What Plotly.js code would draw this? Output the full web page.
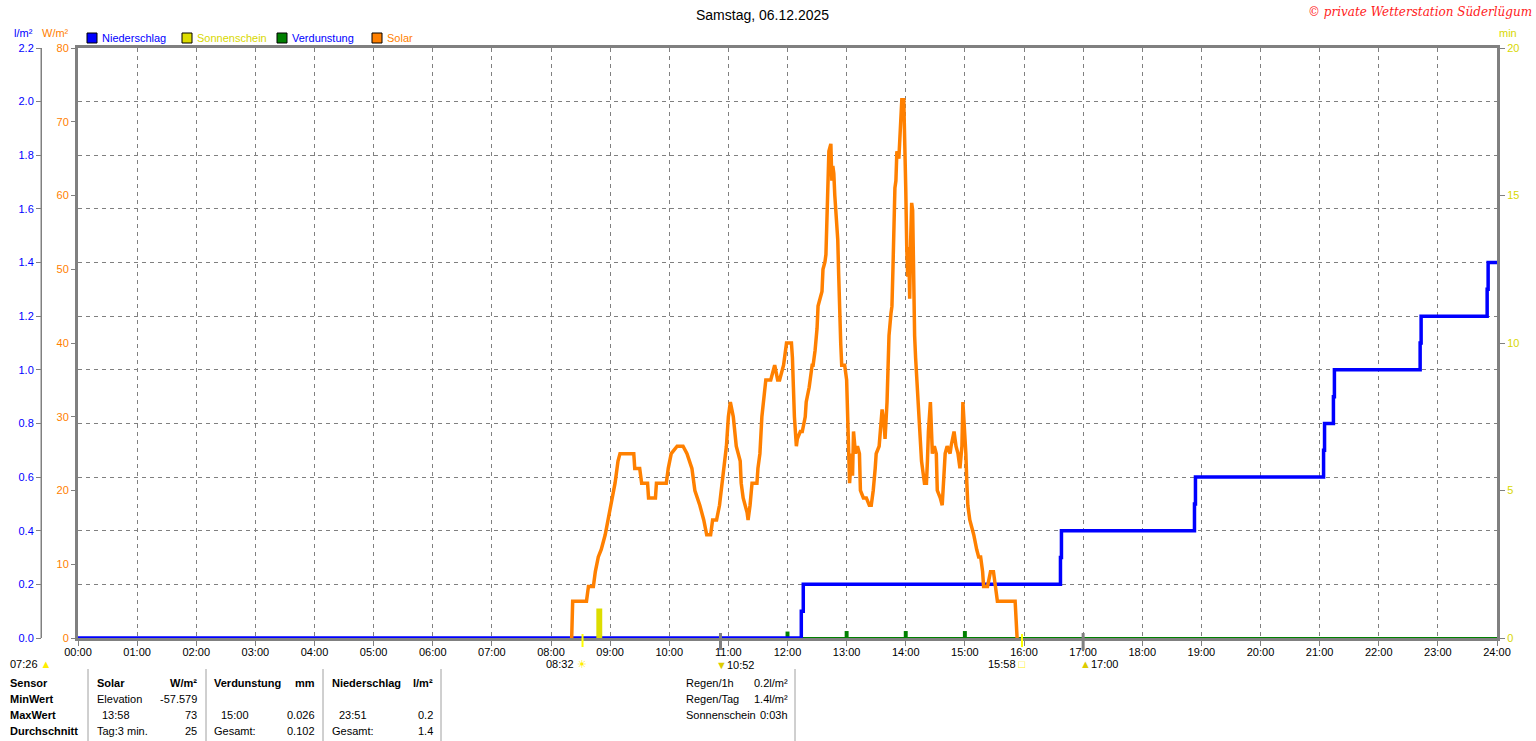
<!DOCTYPE html>
<html><head><meta charset="utf-8">
<script src="https://cdn.plot.ly/plotly-3.0.1.min.js"></script>
<style>html,body{margin:0;padding:0;background:#fff;overflow:hidden}#chart{width:1536px;height:741px}</style>
</head><body><div id="chart"></div>
<script>
// ---- data (minutes since midnight) ----
const solarTime = [
 501,502,516,518,523,525,528,531,535,538,
 542,545,548,550,564,565,570,572,578,579,
 586,587,597,599,602,608,614,618,623,626,
 631,635,638,642,644,648,651,655,658,660,
 662,665,668,672,673,675,679,680,682,684,
 689,690,692,694,698,703,707,710,712,716,
 719,724,725,726,727,729,730,733,735,738,
 739,742,745,746,748,750,751,753,755,756,
 758,759,760,761,762,764,765,766,767,768,
 769,771,772,773,774,775,778,780,781,782,
 783,785,786,787,789,791,793,794,797,800,
 803,805,807,809,810,813,814,816,818,819,
 821,822,823,825,826,827,828,829,830,831,
 833,834,835,836,838,839,840,841,842,843,
 844,845,846,847,848,849,850,852,854,856,
 859,861,862,863,865,866,867,869,871,872,
 875,877,879,880,882,885,886,889,891,893,
 895,897,898,899,901,902,903,905,907,909,
 912,914,916,918,919,923,926,929,931,933,
 951,952,953];
const solarValue = [
 0,5,5,7,7,9,11,12,14,16,
 19,21,24,25,25,23,23,21,21,19,
 19,21,21,23,25,26,26,25,23,20,
 18,16,14,14,16,16,18,23,26,30,
 32,30,26,24,21,19,17,16,18,21,
 21,23,25,30,35,35,37,35,35,37,
 40,40,38,34,30,26,27,28,28,30,
 32,34,37,37,39,42,45,46,47,50,
 51,52,56,62,66,67,62,64,63,60,
 58,54,49,43,40,37,37,35,30,25,
 21,25,22,28,25,26,25,20,19,19,
 18,18,20,23,25,26,28,31,29,27,
 32,39,41,44,45,50,58,61,62,66,
 65,68,70,73,73,68,61,53,49,53,
 46,54,59,58,48,41,38,33,29,24,
 21,21,24,28,32,29,25,26,25,20,
 19,18,22,25,26,25,26,28,26,25,
 23,26,32,30,25,21,18,16,15,14,
 12,11,11,9,7,7,9,9,7,5,
 5,3,0];
const rainTime = [0,734,736,997,998,1133,1134,1264,1265,1274,1275,1362,1363,1430,1431,1440];
const rainSum  = [0,0.1,0.2,0.3,0.4,0.5,0.6,0.7,0.8,0.9,1.0,1.1,1.2,1.3,1.4,1.4];
const evapTime  = [720,780,840,900];
const evapValue = [0.024,0.026,0.026,0.026];
const sunTime    = [529];
const sunMinutes = [1.0];
const hourTicks  = [0,60,120,180,240,300,360,420,480,540,600,660,720,780,840,900,960,1020,1080,1140,1200,1260,1320,1380,1440];
const hourLabels = ["00:00","01:00","02:00","03:00","04:00","05:00","06:00","07:00","08:00","09:00","10:00","11:00","12:00","13:00","14:00","15:00","16:00","17:00","18:00","19:00","20:00","21:00","22:00","23:00","24:00"];
const rainTicks  = [0,0.2,0.4,0.6,0.8,1.0,1.2,1.4,1.6,1.8,2.0,2.2];
const solarTicks = [0,10,20,30,40,50,60,70,80];
const sunTicks   = [0,5,10,15,20];
const eventTime  = [512,652,958,1020];   // Sonnenaufgang, Mittag, Sonnenuntergang, 17:00
const eventColor = ['#ffff00','#808080','#ffff00','#808080'];

// ---- layout helpers (pixel -> paper) ----
const W=1536,H=741,L=78,R=1497,T=48,B=638;
const px = x => x/W, py = y => 1 - y/H;
const FONT = 'Liberation Sans, Arial, sans-serif';
const GRID = '#808080';

const traces = [
 {type:'bar', x:evapTime, y:evapValue, yaxis:'y', width:4, marker:{color:'#008000', line:{width:0}}, hoverinfo:'skip'},
 {type:'scatter', mode:'lines', x:rainTime, y:rainSum, yaxis:'y', line:{color:'#0000ff', width:3.5, shape:'hv'}, hoverinfo:'skip'},
 {type:'scatter', mode:'lines', x:solarTime, y:solarValue, yaxis:'y2', line:{color:'#ff8000', width:3.5}, hoverinfo:'skip'},
 {type:'bar', x:sunTime, y:sunMinutes, yaxis:'y3', width:6, marker:{color:'#dddd00', line:{width:0}}, hoverinfo:'skip'}
];

const ann = [];
const A = (x,y,text,opt={}) => ann.push(Object.assign({xref:'paper',yref:'paper',x:px(x),y:py(y),text:text,showarrow:false,xanchor:'left',yanchor:'middle',font:{family:FONT,size:11,color:'#000'}},opt));
A(762,15,'Samstag, 06.12.2025',{xanchor:'center',font:{family:FONT,size:14,color:'#000'}});
A(1534,12,'© private Wetterstation Süderlügum',{xanchor:'right',font:{family:'DejaVu Serif, serif',size:12,color:'#ff1a1a',style:'italic'}});
A(12,33,'l/m²',{font:{family:FONT,size:11,color:'#0000ff'}});
A(40,33,'W/m²',{font:{family:FONT,size:11,color:'#ff8000'}});
A(1497,33,'min',{font:{family:FONT,size:11,color:'#d8d800'}});
// legend
const legItems = [[87,'Niederschlag','#0000ff','#0000ff'],[182,'Sonnenschein','#dddd00','#d8d800'],[277,'Verdunstung','#008000','#0000ff'],[372,'Solar','#ff8000','#ff8000']];
const shapes = [];
legItems.forEach(([x,t,c,tc])=>{
  shapes.push({type:'rect',xref:'paper',yref:'paper',x0:px(x),x1:px(x+10),y0:py(43),y1:py(33),fillcolor:c,line:{color:'#000',width:1}});
  A(x+13,38,t,{font:{family:FONT,size:11,color:tc}});
});
// blue axis line
shapes.push({type:'line',xref:'paper',yref:'paper',x0:px(41),x1:px(41),y0:py(B),y1:py(T),line:{color:GRID,width:1}});
// event markers below axis
eventTime.forEach((t,i)=>{
  shapes.push({type:'line',xref:'x',yref:'paper',x0:t,x1:t,y0:py(i%2?650:647),y1:py(i%2?633:634),line:{color:eventColor[i],width:i%2?3:2}});
});
A(8,664,'07:26 <span style="color:#ffee00">▲</span>');
A(589,664,'08:32 <span style="color:#ffee00">☀</span>',{xanchor:'right'});
A(714,665,'<span style="color:#ddcc00">▼</span>10:52');
A(1028,664,'15:58 <span style="color:#ffee00">□</span>',{xanchor:'right'});
A(1078,664,'<span style="color:#ddcc00">▲</span>17:00');
// table
A(8,683,'<b>Sensor</b>'); A(8,699,'<b>MinWert</b>'); A(8,715,'<b>MaxWert</b>'); A(8,731,'<b>Durchschnitt</b>');
A(95,683,'<b>Solar</b>'); A(199,683,'<b>W/m²</b>',{xanchor:'right'});
A(95,699,'Elevation'); A(199,699,'-57.579',{xanchor:'right'});
A(100,715,'13:58'); A(199,715,'73',{xanchor:'right'});
A(95,731,'Tag:3 min.'); A(199,731,'25',{xanchor:'right'});
A(212,683,'<b>Verdunstung</b>'); A(317,683,'<b>mm</b>',{xanchor:'right'});
A(219,715,'15:00'); A(317,715,'0.026',{xanchor:'right'});
A(212,731,'Gesamt:'); A(317,731,'0.102',{xanchor:'right'});
A(330,683,'<b>Niederschlag</b>'); A(435,683,'<b>l/m²</b>',{xanchor:'right'});
A(337,715,'23:51'); A(435,715,'0.2',{xanchor:'right'});
A(330,731,'Gesamt:'); A(435,731,'1.4',{xanchor:'right'});
A(684,683,'Regen/1h'); A(790,683,'0.2l/m²',{xanchor:'right'});
A(684,699,'Regen/Tag'); A(790,699,'1.4l/m²',{xanchor:'right'});
A(684,715,'Sonnenschein'); A(790,715,'0:03h',{xanchor:'right'});
[88,206,323,441,795].forEach(x=>shapes.push({type:'line',xref:'paper',yref:'paper',x0:px(x),x1:px(x),y0:py(669),y1:py(741),line:{color:'#a0a0a0',width:1}}));

const layout = {
 width:W, height:H, margin:{l:0,r:0,t:0,b:0,autoexpand:false},
 paper_bgcolor:'#fff', plot_bgcolor:'#fff', showlegend:false, barmode:'overlay',
 font:{family:FONT,size:11,color:'#000'},
 xaxis:{domain:[px(L),px(R)], range:[0,1440], tickmode:'array', tickvals:hourTicks, ticktext:hourLabels,
   ticks:'outside', ticklen:5, tickcolor:GRID, tickfont:{family:FONT,size:11,color:'#000'}, ticklabelstandoff:-3,
   showgrid:true, gridcolor:GRID, griddash:'4px,4px', gridwidth:1,
   showline:true, linecolor:GRID, linewidth:3, mirror:true, zeroline:false, fixedrange:true, automargin:false},
 yaxis:{domain:[py(B),py(T)], range:[0,2.2], anchor:'free', position:px(41), side:'left',
   tickmode:'array', tickvals:rainTicks, tickformat:'.1f', ticks:'outside', ticklen:5, tickcolor:GRID,
   tickfont:{family:FONT,size:11,color:'#0000ff'}, showline:true, linecolor:GRID, linewidth:1,
   showgrid:true, gridcolor:GRID, griddash:'4px,4px', gridwidth:1,
   zeroline:true, zerolinecolor:'#008000', zerolinewidth:2, fixedrange:true, automargin:false},
 yaxis2:{overlaying:'y', anchor:'x', side:'left', range:[0,80], tickmode:'array', tickvals:solarTicks,
   ticks:'outside', ticklen:4, tickcolor:GRID, tickfont:{family:FONT,size:11,color:'#ff8000'},
   showline:true, linecolor:GRID, linewidth:3, showgrid:false, zeroline:false, fixedrange:true, automargin:false},
 yaxis3:{overlaying:'y', anchor:'x', side:'right', range:[0,20], tickmode:'array', tickvals:sunTicks,
   ticks:'outside', ticklen:5, tickcolor:GRID, tickfont:{family:FONT,size:11,color:'#d8d800'},
   showline:true, linecolor:GRID, linewidth:3, showgrid:false, zeroline:false, fixedrange:true, automargin:false},
 annotations:ann, shapes:shapes
};
Plotly.newPlot('chart', traces, layout, {staticPlot:true, displayModeBar:false});
</script></body></html>
